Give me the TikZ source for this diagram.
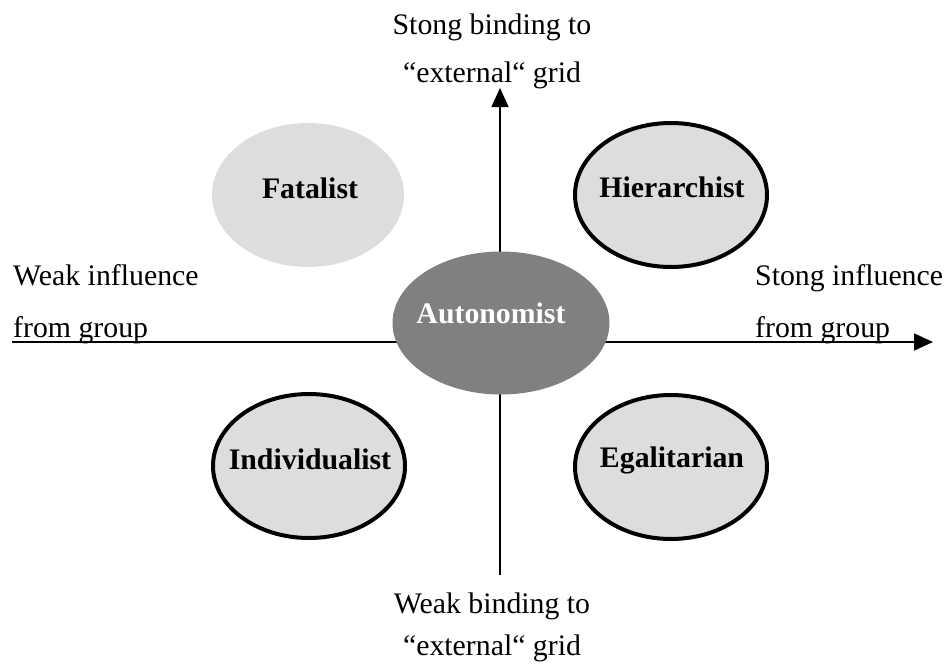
\documentclass[tikz,border=0pt]{standalone}
\usepackage{fontspec}
\setmainfont{Liberation Serif}
\usetikzlibrary{arrows.meta,shapes.geometric}

\definecolor{lightfill}{HTML}{DDDDDD}
\definecolor{darkfill}{HTML}{808080}

\tikzset{
  axis/.style={line width=1.7pt, -{Triangle[length=19pt,width=17pt]}},
  culture/.style={ellipse, fill=lightfill, draw=black, line width=4pt,
    minimum width=192pt, minimum height=144pt, inner sep=0pt},
  softculture/.style={culture, draw=none},
  centreculture/.style={ellipse, fill=darkfill, draw=none,
    minimum width=217pt, minimum height=143pt, inner sep=0pt},
  label/.style={font=\fontsize{29.8}{36}\selectfont, inner sep=0pt, anchor=base},
  boldlabel/.style={label, font=\fontsize{29.8}{36}\selectfont\bfseries},
}

\begin{document}
\begin{tikzpicture}[x=1pt,y=-1pt]
  \useasboundingbox (0,0) rectangle (945,669);

  % axes
  \coordinate (xl) at (12,342);
  \coordinate (xr) at (933,342);
  \coordinate (yb) at (500,575);
  \coordinate (yt) at (500,88);
  \draw[axis] (xl) -- (xr);
  \draw[axis] (yb) -- (yt);

  % axis captions
  \node[label] (topA) at (492,35) {Stong binding to};
  \node[label] (topB) at (492,82) {“external“ grid};
  \node[label] (botA) at (492,613) {Weak binding to};
  \node[label] (botB) at (492,655) {“external“ grid};
  \node[label, anchor=base west] (leftA) at (13,285) {Weak influence};
  \node[label, anchor=base west] (leftB) at (13,337) {from group};
  \node[label, anchor=base west] (rightA) at (755,285) {Stong influence};
  \node[label, anchor=base west] (rightB) at (755,337) {from group};

  % cultural types
  \node[softculture] (fat) at (308,195) {};
  \node[culture] (hier) at (671,195) {};
  \node[culture] (ind) at (309,466) {};
  \node[culture] (ega) at (671,467) {};
  \node[centreculture] (aut) at (501,323) {};

  \node[boldlabel] (fatT) at (310,198) {Fatalist};
  \node[boldlabel] (hierT) at (672,197) {Hierarchist};
  \node[boldlabel] (indT) at (310,469) {Individualist};
  \node[boldlabel] (egaT) at (672,467) {Egalitarian};
  \node[boldlabel, text=white] (autT) at (491,323) {Autonomist};
\end{tikzpicture}
\end{document}
